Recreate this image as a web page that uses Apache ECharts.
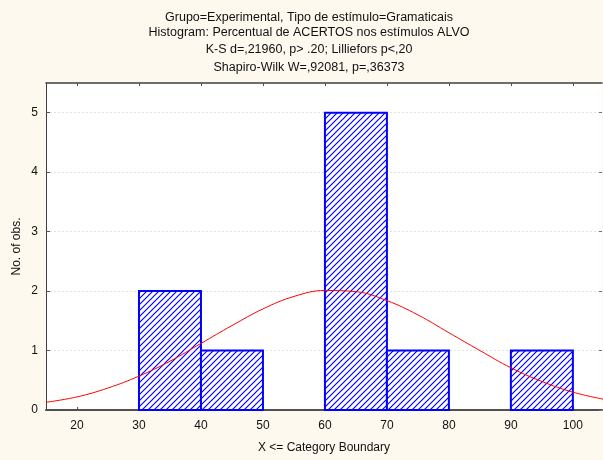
<!DOCTYPE html>
<html>
<head>
<meta charset="utf-8">
<style>
  html, body { margin: 0; padding: 0; background: #fdf9ef; }
  #chart { width: 603px; height: 460px; }
</style>
<script src="https://cdn.jsdelivr.net/npm/echarts@6/dist/echarts.min.js"></script>
</head>
<body>
<div id="chart"></div>
<script>
// Histogram bins (lower / upper class boundaries) and observed counts
const binLower = [30, 40, 60, 70, 90];
const binUpper = [40, 50, 70, 80, 100];
const counts = [2, 1, 5, 1, 1];

// Fitted normal curve (expected counts), sampled along X
const curveX = [15, 20, 25, 30, 35, 40, 45, 50, 55, 60, 65, 70, 75, 80, 85, 90, 95, 100, 105];
const curveY = [0.13, 0.22, 0.37, 0.57, 0.82, 1.12, 1.42, 1.70, 1.91, 2.01, 1.99, 1.84, 1.60, 1.30, 1.00, 0.71, 0.48, 0.30, 0.18];

// Axis tick values
const xTicks = [20, 30, 40, 50, 60, 70, 80, 90, 100];
const yTicks = [0, 1, 2, 3, 4, 5];

const titleLines = [
  'Grupo=Experimental, Tipo de estímulo=Gramaticais',
  'Histogram: Percentual de ACERTOS nos estímulos ALVO',
  'K-S d=,21960, p> .20; Lilliefors p<,20',
  'Shapiro-Wilk W=,92081, p=,36373'
];

const FONT = '"Liberation Sans", Arial, sans-serif';

// Diagonal hatch fill for the bars
function makeHatch() {
  const s = 6;
  const c = document.createElement('canvas');
  c.width = s; c.height = s;
  const g = c.getContext('2d');
  g.fillStyle = '#ffffff';
  g.fillRect(0, 0, s, s);
  g.strokeStyle = '#0000ff';
  g.lineWidth = 1.2;
  g.beginPath();
  g.moveTo(-1, s + 1); g.lineTo(s + 1, -1);
  g.moveTo(-1, 1); g.lineTo(1, -1);
  g.moveTo(s - 1, s + 1); g.lineTo(s + 1, s - 1);
  g.stroke();
  return c;
}
const hatch = makeHatch();

const barData = binLower.map((lo, i) => [lo, binUpper[i], counts[i]]);
const curveData = curveX.map((x, i) => [x, curveY[i]]);
const titleTops = [11, 26, 43, 61];

const chart = echarts.init(document.getElementById('chart'), null, { renderer: 'canvas' });

chart.setOption({
  backgroundColor: '#fdf9ef',
  animation: false,
  title: titleLines.map((t, i) => ({
    text: t,
    left: 309,
    top: titleTops[i],
    textAlign: 'center',
    padding: 0,
    textStyle: { fontFamily: FONT, fontSize: 12.5, fontWeight: 'normal', color: '#111' }
  })),
  grid: {
    left: 46, top: 83, right: 1, bottom: 50,
    show: true, backgroundColor: '#ffffff', borderWidth: 0
  },
  xAxis: [
    {
      type: 'value', position: 'bottom',
      min: 15, max: 104.7,
      name: 'X <= Category Boundary',
      nameLocation: 'middle', nameGap: 32,
      nameTextStyle: { fontFamily: FONT, fontSize: 12, color: '#111' },
      axisLine: { show: true, onZero: false, lineStyle: { color: '#505050', width: 2 } },
      axisTick: { show: true, inside: true, length: 3, customValues: xTicks, lineStyle: { color: '#505050' } },
      axisLabel: { customValues: xTicks, margin: 10, fontFamily: FONT, fontSize: 12, color: '#111' },
      splitLine: { show: false }
    },
    {
      type: 'value', position: 'top',
      min: 15, max: 104.7,
      axisLine: { show: true, onZero: false, lineStyle: { color: '#404040', width: 1.5 } },
      axisTick: { show: true, inside: true, length: 3, customValues: xTicks, lineStyle: { color: '#505050' } },
      axisLabel: { show: false },
      splitLine: { show: false }
    }
  ],
  yAxis: [
    {
      type: 'value', position: 'left',
      min: 0, max: 5.5, interval: 1,
      name: 'No. of obs.',
      nameLocation: 'middle', nameGap: 23, nameRotate: 90,
      nameMoveOverlap: false,
      nameTextStyle: { fontFamily: FONT, fontSize: 12, color: '#111' },
      axisLine: { show: true, onZero: false, lineStyle: { color: '#404040', width: 1 } },
      axisTick: { show: true, inside: true, length: 4, customValues: yTicks, lineStyle: { color: '#505050' } },
      axisLabel: { customValues: yTicks, margin: 8, fontFamily: FONT, fontSize: 12, color: '#111' },
      splitLine: { show: true, lineStyle: { color: '#e2e2e2', type: [2, 2], width: 1 } }
    },
    {
      type: 'value', position: 'right',
      min: 0, max: 5.5, interval: 1,
      axisLine: { show: false },
      axisTick: { show: true, inside: true, length: 3, customValues: yTicks, lineStyle: { color: '#707070' } },
      axisLabel: { show: false },
      splitLine: { show: false }
    }
  ],
  series: [
    {
      type: 'custom',
      xAxisIndex: 0, yAxisIndex: 0,
      data: barData,
      encode: { x: [0, 1], y: 2 },
      renderItem: function (params, api) {
        const top = api.coord([api.value(0), api.value(2)]);
        const bottom = api.coord([api.value(1), 0]);
        return {
          type: 'rect',
          shape: { x: top[0], y: top[1], width: bottom[0] - top[0], height: bottom[1] - top[1] },
          style: { fill: { image: hatch, repeat: 'repeat' }, stroke: '#0000ff', lineWidth: 2 }
        };
      },
      z: 2
    },
    {
      type: 'line',
      xAxisIndex: 0, yAxisIndex: 0,
      data: curveData,
      smooth: 0.4,
      symbol: 'none',
      clip: true,
      lineStyle: { color: '#ff0000', width: 1 },
      z: 3
    }
  ]
});
</script>
</body>
</html>
